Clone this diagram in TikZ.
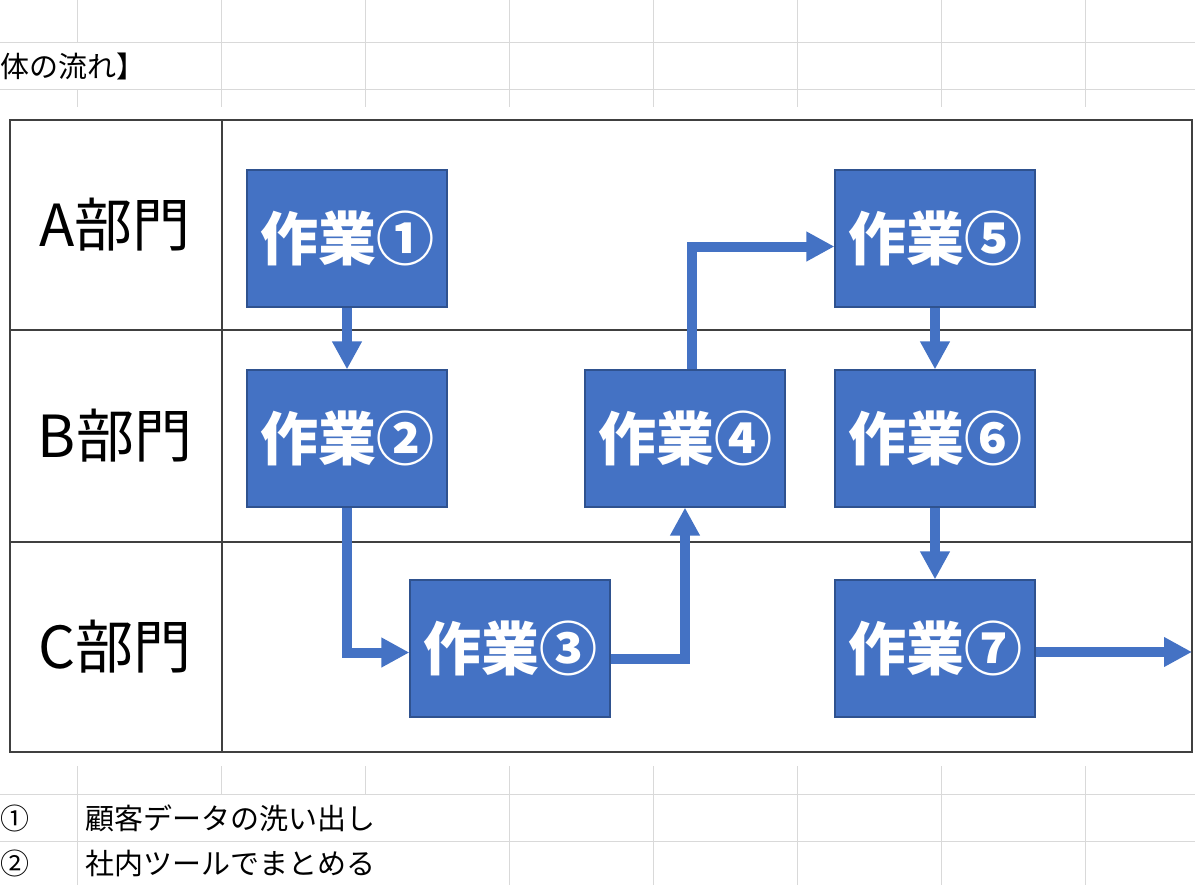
\documentclass[tikz,border=0pt]{standalone}
\usepackage{fontspec}
\setmainfont{Noto Sans CJK JP}
\usepackage{tikz}
\usetikzlibrary{arrows.meta}
\tikzset{>={Triangle[length=14pt,width=14pt]}}
\definecolor{taskblue}{HTML}{4472C4}
\definecolor{taskborder}{HTML}{2F528F}
\definecolor{gridgray}{HTML}{D9D9D9}
\definecolor{framegray}{HTML}{404040}

\begin{document}
\begin{tikzpicture}[x=0.5pt,y=-0.5pt,
		task/.style={draw=taskborder,line width=0.6pt,fill=taskblue,text=white,minimum width=100pt,minimum height=68.5pt,inner sep=0pt,font=\bfseries\fontsize{29}{29}\selectfont},
		dept/.style={font=\fontsize{29}{29}\selectfont},
		note/.style={anchor=west,inner sep=0pt,font=\fontsize{14.5}{15}\selectfont},
		flow/.style={->,line width=5pt,taskblue},
		cell/.style={gridgray,line width=0.5pt},
		frame/.style={framegray,line width=1pt}]
			\useasboundingbox (0,0) rectangle (1195,885);
%-----Sheet grid-----
			\foreach \x in {221,365,...,1085}
				{
					\draw[cell] (\x,0) -- (\x,107);
				}
			\draw[cell] (77,0) -- (77,42) (77,89) -- (77,107);
			\foreach \x in {77,509,653,797,941,1085}
				{
					\draw[cell] (\x,766) -- (\x,885);
				}
			\foreach \x in {221,365}
				{
					\draw[cell] (\x,766) -- (\x,794);
				}
			\foreach \y in {42,89,794,841}
				{
					\draw[cell] (0,\y) -- (1195,\y);
				}
			\node[note] (title) at (0,66) {体の流れ】};
%-----Table-----
			\draw[frame] (10,120) rectangle (1192,752);
			\draw[frame] (222,120) -- (222,752);
			\draw[frame] (10,330) -- (1192,330) (10,542) -- (1192,542);
			\foreach \d/\y in {A/225,B/436,C/647}
				{
					\node[dept] (dept\d) at (115,\y) {\d 部門};
				}
%-----Tasks-----
			\node[task] (w1) at (347,238.5) {作業①};
			\node[task] (w2) at (347,438.5) {作業②};
			\node[task] (w3) at (510,648.5) {作業③};
			\node[task] (w4) at (685,438.5) {作業④};
			\node[task] (w5) at (935,238.5) {作業⑤};
			\node[task] (w6) at (935,438.5) {作業⑥};
			\node[task] (w7) at (935,648.5) {作業⑦};
			\coordinate (exit) at (1192,652);
%-----Draw the arrows here-----
			\draw[flow] (w1) -- (w2);
			\draw[flow] (w2.south) |- ([yshift=-2pt]w3.west);
			\draw[flow] ([yshift=-5pt]w3.east) -| (w4.south);
			\draw[flow] ([xshift=3.5pt]w4.north) |- ([yshift=-4pt]w5.west);
			\draw[flow] (w5) -- (w6);
			\draw[flow] (w6) -- (w7);
			\draw[flow] (w7.east |- exit) -- (exit);
%-----Notes below the table-----
			\node[note] (n1) at (0,818) {①};
			\node[note] (t1) at (85,818) {顧客データの洗い出し};
			\node[note] (n2) at (0,863) {②};
			\node[note] (t2) at (85,863) {社内ツールでまとめる};
		\end{tikzpicture}
\end{document}
